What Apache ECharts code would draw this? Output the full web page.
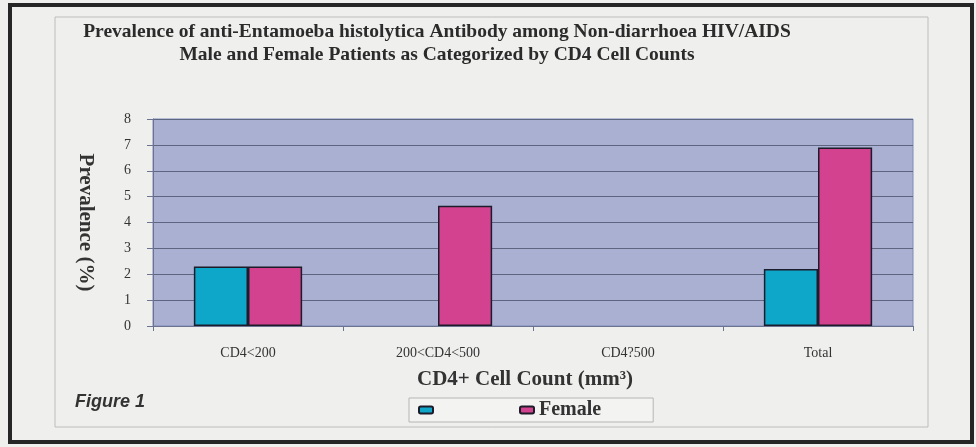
<!DOCTYPE html>
<html>
<head>
<meta charset="utf-8">
<script src="https://cdn.jsdelivr.net/npm/echarts@6/dist/echarts.min.js"></script>
<style>
html,body{margin:0;padding:0;background:#efefed;}
#c{width:976px;height:447px;}
</style>
</head>
<body>
<div id="c"></div>
<script>
const categories = ['CD4<200', '200<CD4<500', 'CD4?500', 'Total'];
const maleValues = [2.3, 0, 0, 2.2];
const femaleValues = [2.3, 4.65, 0, 6.9];
const yTicks = [0, 1, 2, 3, 4, 5, 6, 7, 8];
const titleLines = ['Prevalence of anti-Entamoeba histolytica Antibody among Non-diarrhoea HIV/AIDS',
                    'Male and Female Patients as Categorized by CD4 Cell Counts'];

function barData(values) {
  return values.map(function (v) {
    return v === 0 ? { value: v, itemStyle: { borderWidth: 0, opacity: 0 } } : v;
  });
}

const chart = echarts.init(document.getElementById('c'));
const serif = '"Liberation Serif", "Times New Roman", serif';
chart.setOption({
  backgroundColor: '#efefed',
  animation: false,
  title: {
    text: titleLines.join('\n'),
    left: 432, top: 15, textAlign: 'center',
    textStyle: { fontFamily: serif, fontWeight: 'bold', fontSize: 19.5, lineHeight: 23, color: '#2b2b2b' }
  },
  graphic: [
    { type: 'rect', shape: { x: 10, y: 5, width: 962, height: 437 }, style: { fill: 'none', stroke: '#262626', lineWidth: 4 }, silent: true },
    { type: 'rect', shape: { x: 55, y: 17, width: 873, height: 410 }, style: { fill: 'none', stroke: '#bdbdbd', lineWidth: 1 }, silent: true },
    { type: 'text', left: 75, top: 393, style: { text: 'Figure 1', font: 'italic bold 18px "Liberation Sans", Arial, sans-serif', fill: '#333' } }
  ],
  legend: {
    left: 409, top: 398,
    padding: [2, 52, 2, 9],
    borderColor: '#b5b5b5', borderWidth: 1, borderRadius: 0,
    backgroundColor: '#f3f3f1',
    itemWidth: 14, itemHeight: 7, itemGap: 85,
    formatter: function (n) { return n === 'Male' ? '' : n; },
    textStyle: { fontFamily: serif, fontWeight: 'bold', fontSize: 20, color: '#333' },
    data: ['Male', 'Female']
  },
  grid: {
    left: 153, right: 63, top: 119, bottom: 121,
    show: true, backgroundColor: '#a9b0d1', borderColor: '#7c8bbb', borderWidth: 1
  },
  xAxis: {
    type: 'category', data: categories,
    name: 'CD4+ Cell Count (mm³)', nameLocation: 'middle', nameGap: 43,
    nameTextStyle: { fontFamily: serif, fontWeight: 'bold', fontSize: 21, color: '#333', padding: [0, 16, 0, 0] },
    axisLine: { lineStyle: { color: '#6b7390' } },
    axisTick: { show: true, length: 5, lineStyle: { color: '#6b7390' } },
    axisLabel: { fontFamily: serif, fontSize: 14, color: '#333', margin: 20 }
  },
  yAxis: {
    type: 'value', min: 0, max: 8, interval: 1,
    name: 'Prevalence (%)', nameLocation: 'middle', nameRotate: -90, nameGap: 57,
    nameTextStyle: { fontFamily: serif, fontWeight: 'bold', fontSize: 21, color: '#333' },
    axisLine: { show: true, lineStyle: { color: '#6b7390' } },
    axisTick: { show: true, length: 6, lineStyle: { color: '#6b7390' } },
    axisLabel: { fontFamily: serif, fontSize: 14, color: '#333', margin: 22,
      formatter: function (v) { return yTicks.indexOf(v) >= 0 ? String(v) : ''; } },
    splitLine: { lineStyle: { color: '#5e6580', width: 1 } }
  },
  series: [
    { name: 'Male', type: 'bar', data: barData(maleValues), barWidth: '28.5%', barGap: '0%',
      itemStyle: { color: '#0ea6c9', borderColor: '#1c1c2a', borderWidth: 1.5 } },
    { name: 'Female', type: 'bar', data: barData(femaleValues), barWidth: '28.5%', barGap: '0%',
      itemStyle: { color: '#d3428f', borderColor: '#1c1c2a', borderWidth: 1.5 } }
  ]
});
</script>
</body>
</html>
